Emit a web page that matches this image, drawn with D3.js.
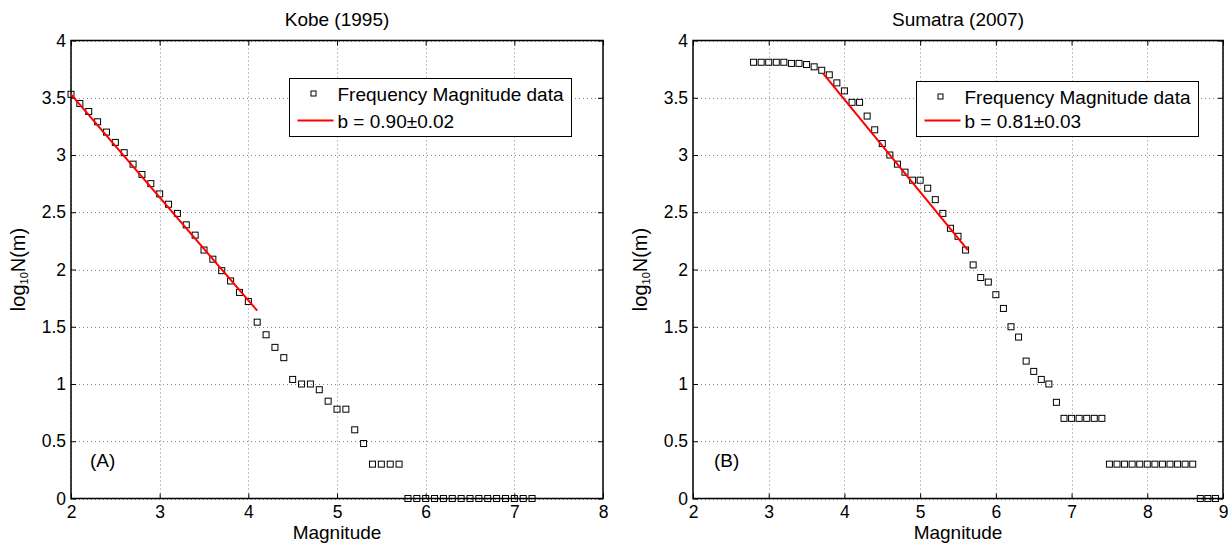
<!DOCTYPE html>
<html>
<head>
<meta charset="utf-8">
<script src="https://cdn.jsdelivr.net/npm/d3@7"></script>
<style>
body { margin: 0; background: #fff; }
text { font-family: "Liberation Sans", Arial, Helvetica, sans-serif; fill: #000; }
</style>
</head>
<body>
<div id="chart"></div>
<script>
// ---- data ----
const kobeMag = [2.0, 2.1, 2.2, 2.3, 2.4, 2.5, 2.6, 2.7, 2.8, 2.9,
    3.0, 3.1, 3.2, 3.3, 3.4, 3.5, 3.6, 3.7, 3.8, 3.9,
    4.0, 4.1, 4.2, 4.3, 4.4, 4.5, 4.6, 4.7, 4.8, 4.9,
    5.0, 5.1, 5.2, 5.3, 5.4, 5.5, 5.6, 5.7, 5.8, 5.9,
    6.0, 6.1, 6.2, 6.3, 6.4, 6.5, 6.6, 6.7, 6.8, 6.9,
    7.0, 7.1, 7.2];
const kobeLogN = [3.53, 3.45, 3.38, 3.29, 3.20, 3.11, 3.02, 2.92, 2.83, 2.75,
    2.66, 2.57, 2.49, 2.39, 2.30, 2.17, 2.09, 1.99, 1.90, 1.80,
    1.72, 1.54, 1.43, 1.32, 1.23, 1.04, 1.00, 1.00, 0.95, 0.85,
    0.78, 0.78, 0.60, 0.48, 0.30, 0.30, 0.30, 0.30, 0, 0,
    0, 0, 0, 0, 0, 0, 0, 0, 0, 0,
    0, 0, 0];
const kobeFitMag = [2.0, 4.1];
const kobeFitLogN = [3.53, 1.64];

const sumatraMag = [2.8, 2.9, 3.0, 3.1, 3.2, 3.3, 3.4, 3.5, 3.6, 3.7,
    3.8, 3.9, 4.0, 4.1, 4.2, 4.3, 4.4, 4.5, 4.6, 4.7,
    4.8, 4.9, 5.0, 5.1, 5.2, 5.3, 5.4, 5.5, 5.6, 5.7,
    5.8, 5.9, 6.0, 6.1, 6.2, 6.3, 6.4, 6.5, 6.6, 6.7,
    6.8, 6.9, 7.0, 7.1, 7.2, 7.3, 7.4, 7.5, 7.6, 7.7,
    7.8, 7.9, 8.0, 8.1, 8.2, 8.3, 8.4, 8.5, 8.6, 8.7,
    8.8, 8.9];
const sumatraLogN = [3.81, 3.81, 3.81, 3.81, 3.81, 3.80, 3.80, 3.79, 3.77, 3.74,
    3.70, 3.63, 3.56, 3.46, 3.46, 3.34, 3.22, 3.10, 3.00, 2.92,
    2.85, 2.78, 2.78, 2.71, 2.61, 2.49, 2.36, 2.29, 2.17, 2.04,
    1.93, 1.89, 1.78, 1.66, 1.50, 1.41, 1.20, 1.11, 1.04, 1.00,
    0.84, 0.70, 0.70, 0.70, 0.70, 0.70, 0.70, 0.30, 0.30, 0.30,
    0.30, 0.30, 0.30, 0.30, 0.30, 0.30, 0.30, 0.30, 0.30, 0,
    0, 0];
const sumatraFitMag = [3.72, 5.63];
const sumatraFitLogN = [3.71, 2.17];

const kobeXTicks = [2, 3, 4, 5, 6, 7, 8];
const sumatraXTicks = [2, 3, 4, 5, 6, 7, 8, 9];
const yTicks = [0, 0.5, 1, 1.5, 2, 2.5, 3, 3.5, 4];

const legendLabels = ["Frequency Magnitude data"];
const kobeFitLabel = "b = 0.90\u00B10.02";
const sumatraFitLabel = "b = 0.81\u00B10.03";

const width = 1229, height = 544;

const svg = d3.select("#chart")
    .append("svg")
    .attr("width", width)
    .attr("height", height);

const fmt = d3.format("~g");

function drawPanel(p) {
    const top = 40.5, bottom = 498.5;
    const x = d3.scaleLinear().domain(p.xDomain).range([p.left, p.right]);
    const y = d3.scaleLinear().domain([0, 4]).range([bottom, top]);
    const g = svg.append("g");

    // dotted grid
    const grid = g.append("g")
        .attr("stroke", "#888")
        .attr("stroke-width", 1)
        .attr("stroke-dasharray", "1,3");
    grid.selectAll(".gx")
        .data(p.xTicks)
        .join("line")
        .attr("x1", d => Math.round(x(d)) + 0.5)
        .attr("x2", d => Math.round(x(d)) + 0.5)
        .attr("y1", top)
        .attr("y2", bottom);
    grid.selectAll(".gy")
        .data(yTicks)
        .join("line")
        .attr("class", "gy")
        .attr("x1", p.left)
        .attr("x2", p.right)
        .attr("y1", d => Math.round(y(d)) + 0.5)
        .attr("y2", d => Math.round(y(d)) + 0.5);

    // axes, inward ticks on all four sides
    const styleAxis = a => {
        a.select(".domain").remove();
        a.selectAll(".tick line").attr("stroke", "#000").attr("stroke-width", 1);
        a.selectAll("text").style("font-size", "17.5px").attr("fill", "#000");
    };
    g.append("g")
        .attr("transform", `translate(0,${bottom})`)
        .call(d3.axisBottom(x).tickValues(p.xTicks).tickFormat(fmt)
            .tickSizeInner(-5).tickSizeOuter(0).tickPadding(7))
        .call(styleAxis);
    g.append("g")
        .attr("transform", `translate(0,${top})`)
        .call(d3.axisTop(x).tickValues(p.xTicks).tickFormat("")
            .tickSizeInner(-5).tickSizeOuter(0))
        .call(styleAxis);
    g.append("g")
        .attr("transform", `translate(${p.left},0)`)
        .call(d3.axisLeft(y).tickValues(yTicks).tickFormat(fmt)
            .tickSizeInner(-5).tickSizeOuter(0).tickPadding(5))
        .call(styleAxis);
    g.append("g")
        .attr("transform", `translate(${p.right},0)`)
        .call(d3.axisRight(y).tickValues(yTicks).tickFormat("")
            .tickSizeInner(-5).tickSizeOuter(0))
        .call(styleAxis);

    g.append("rect")
        .attr("x", p.left)
        .attr("y", top)
        .attr("width", p.right - p.left)
        .attr("height", bottom - top)
        .attr("fill", "none")
        .attr("stroke", "#000")
        .attr("stroke-width", 1.5);

    // square markers
    const pts = p.mag.map((m, i) => [m, p.logN[i]]);
    g.append("g")
        .selectAll("rect")
        .data(pts)
        .join("rect")
        .attr("x", d => x(d[0]) - 3)
        .attr("y", d => y(d[1]) - 3)
        .attr("width", 6)
        .attr("height", 6)
        .attr("fill", "none")
        .attr("stroke", "#000")
        .attr("stroke-width", 1);

    // fitted line
    const line = d3.line().x(d => x(d[0])).y(d => y(d[1]));
    g.append("path")
        .datum(p.fitMag.map((m, i) => [m, p.fitLogN[i]]))
        .attr("d", line)
        .attr("fill", "none")
        .attr("stroke", "#ff0000")
        .attr("stroke-width", 2);

    // legend
    const lg = g.append("g").attr("transform", `translate(${p.legend[0]},${p.legend[1]})`);
    lg.append("rect")
        .attr("width", 282)
        .attr("height", p.legend[2])
        .attr("fill", "#fff")
        .attr("stroke", "#000")
        .attr("stroke-width", 1);
    lg.append("rect")
        .attr("x", 21.5).attr("y", 12.5)
        .attr("width", 5).attr("height", 5)
        .attr("fill", "none").attr("stroke", "#000");
    lg.append("line")
        .attr("x1", 8).attr("x2", 44)
        .attr("y1", p.legend[2] - 16).attr("y2", p.legend[2] - 16)
        .attr("stroke", "#ff0000").attr("stroke-width", 2);
    lg.append("text")
        .attr("x", 48).attr("y", 22)
        .style("font-size", "19px")
        .text(legendLabels[0]);
    lg.append("text")
        .attr("x", 48).attr("y", p.legend[2] - 9)
        .style("font-size", "19px")
        .text(p.fitLabel);

    // titles and labels
    const cx = (p.left + p.right) / 2;
    g.append("text")
        .attr("x", cx).attr("y", 26)
        .attr("text-anchor", "middle")
        .style("font-size", "19px")
        .text(p.title);
    g.append("text")
        .attr("x", cx).attr("y", 539)
        .attr("text-anchor", "middle")
        .style("font-size", "19px")
        .text("Magnitude");
    const yl = g.append("text")
        .attr("transform", `translate(${p.left - 46},${(top + bottom) / 2}) rotate(-90)`)
        .attr("text-anchor", "middle")
        .style("font-size", "20px");
    yl.append("tspan").text("log");
    yl.append("tspan").attr("dy", 3).style("font-size", "11px").text("10");
    yl.append("tspan").attr("dy", -3).text("N(m)");

    g.append("text")
        .attr("x", p.left + p.tagDx).attr("y", 467)
        .style("font-size", "19px")
        .text(p.tag);
}

drawPanel({
    left: 71, right: 603, xDomain: [2, 8], xTicks: kobeXTicks,
    mag: kobeMag, logN: kobeLogN, fitMag: kobeFitMag, fitLogN: kobeFitLogN,
    legend: [289.5, 78.5, 58], fitLabel: kobeFitLabel,
    title: "Kobe (1995)", tag: "(A)", tagDx: 19
});
drawPanel({
    left: 693, right: 1223, xDomain: [2, 9], xTicks: sumatraXTicks,
    mag: sumatraMag, logN: sumatraLogN, fitMag: sumatraFitMag, fitLogN: sumatraFitLogN,
    legend: [916.5, 81.5, 55], fitLabel: sumatraFitLabel,
    title: "Sumatra (2007)", tag: "(B)", tagDx: 21
});
</script>
</body>
</html>
